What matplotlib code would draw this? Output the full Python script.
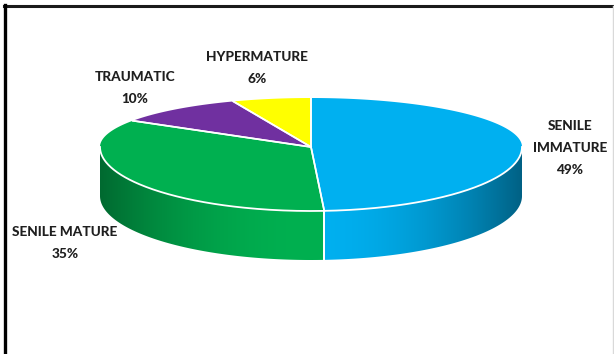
import numpy as np
import matplotlib
matplotlib.use("Agg")
import matplotlib.pyplot as plt
from matplotlib.patches import Polygon
from matplotlib.lines import Line2D
from matplotlib.colors import to_rgb

# Cataract types and their shares (%)
categories = ["SENILE\nIMMATURE", "SENILE MATURE", "TRAUMATIC", "HYPERMATURE"]
shares = [49, 35, 10, 6]
colors = ["#00B0F0", "#00B050", "#7030A0", "#FFFF00"]

# label anchor (centre of first line) in pixel space
label_pos = [(570, 126), (65, 232), (135, 77), (257, 57)]

W, H = 614, 354
fig = plt.figure(figsize=(W / 100, H / 100), dpi=100)
ax = fig.add_axes([0, 0, 1, 1])
ax.set_xlim(0, W)
ax.set_ylim(H, 0)
ax.axis("off")

# pie geometry (pixels): tilted disc with a slightly larger front half
cx, cy = 311, 147
rx = 211
ry_back, ry_front = 49, 64
depth = 49


def rim(theta_deg, dy=0.0):
    t = np.radians(np.asarray(theta_deg, dtype=float))
    c = np.cos(t)
    ry = np.where(c > 0, ry_back, ry_front)
    # slight perspective widening of the far-left back quadrant
    return cx + rx * np.sin(t), cy - ry * c + dy


vals = np.array(shares, dtype=float)
bounds = np.concatenate([[0], np.cumsum(vals) / vals.sum() * 360.0])


def shade(rgb, u, k):
    m = 1.0 - k * np.abs(u) ** 2
    return np.clip(np.array(rgb)[None, None, :] * m[..., None], 0, 1)


# side walls (only the front half, 90..270 degrees, is visible)
xs_grid = np.linspace(cx - rx - 2, cx + rx + 2, 500)
u_grid = (xs_grid - cx) / rx
for i, (a, b) in enumerate(zip(bounds[:-1], bounds[1:])):
    lo, hi = max(a, 90.0), min(b, 270.0)
    if hi <= lo:
        continue
    th = np.linspace(lo, hi, 200)
    xt, yt = rim(th)
    xb, yb = rim(th[::-1], depth)
    poly = np.column_stack([np.concatenate([xt, xb]), np.concatenate([yt, yb])])
    clip = Polygon(poly, closed=True, facecolor="none", edgecolor="none")
    ax.add_patch(clip)
    img = shade(to_rgb(colors[i]), u_grid[None, :], 0.45 if i == 0 else 0.4)
    im = ax.imshow(img, extent=(xs_grid[0], xs_grid[-1], cy + ry_front + depth + 5, cy - 5),
                   aspect="auto", interpolation="bilinear", zorder=1)
    im.set_clip_path(clip)
    # seam between slices on the wall
    for ang in (a, b):
        if 90.0 < ang < 270.0:
            x0, y0 = rim(ang)
            x1, y1 = rim(ang, depth)
            ax.add_line(Line2D([x0, x1], [y0, y1], color="white", lw=1.3, zorder=3))

# top face slices
for i, (a, b) in enumerate(zip(bounds[:-1], bounds[1:])):
    th = np.linspace(a, b, 200)
    xt, yt = rim(th)
    poly = np.column_stack([np.concatenate([[cx], xt]), np.concatenate([[cy], yt])])
    ax.add_patch(Polygon(poly, closed=True, facecolor=colors[i], edgecolor="none", zorder=2))
    for ang in (a, b):
        xe, ye = rim(ang)
        ax.add_line(Line2D([cx, xe], [cy, ye], color="white", lw=1.2, zorder=3))

# white rim between the top face and the wall
th = np.linspace(90, 270, 300)
xr, yr = rim(th)
ax.add_line(Line2D(xr, yr, color="white", lw=1.3, zorder=3))

# data labels
for name, v, (lx, ly) in zip(categories, shares, label_pos):
    lines = name.split("\n") + [f"{v}%"]
    for k, s in enumerate(lines):
        ax.text(lx, ly + 22 * k, s, ha="center", va="center", fontsize=9.8,
                fontweight="black", family=["Lato", "DejaVu Sans"], color="#1f1f1f",
                zorder=4)

# chart frame
ax.add_line(Line2D([4, W], [5.5, 5.5], color="#1a1a1a", lw=2.2, zorder=5))
ax.add_line(Line2D([5.2, 5.2], [4.5, H], color="#000000", lw=2.4, zorder=5))
ax.add_line(Line2D([612.8, 612.8], [6, H], color="#d9d9d9", lw=1, zorder=5))

fig.savefig("out.png", dpi=100)
